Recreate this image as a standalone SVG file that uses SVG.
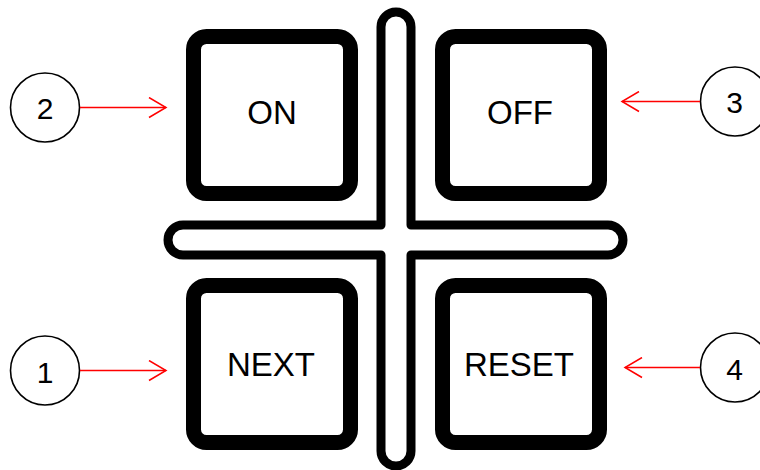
<svg xmlns="http://www.w3.org/2000/svg" width="760" height="470" viewBox="0 0 760 470">
<style>
.btn{fill:#fff;stroke:#000;stroke-width:15;}
.lbl{font-family:"Liberation Sans",Arial,sans-serif;font-size:33px;fill:#000;text-anchor:middle;}
.num{font-family:"Liberation Sans",Arial,sans-serif;font-size:30px;fill:#000;text-anchor:middle;}
.circ{fill:#fff;stroke:#000;stroke-width:1.6;}
.conn{stroke:#ff0000;stroke-width:1.5;fill:none;}
</style>
<defs>
<marker id="arr" viewBox="0 0 20 22" refX="18" refY="11" markerWidth="20" markerHeight="22" markerUnits="userSpaceOnUse" orient="auto">
<path d="M1 1 L18 11 L1 21" fill="none" stroke="#ff0000" stroke-width="1.5"/>
</marker>
</defs>
<rect width="760" height="470" fill="#fff"/>
<g id="cross">
<path d="M381 27 A15 15 0 0 1 411 27 L411 225 L608 225 A15 15 0 0 1 608 255 L411 255 L411 451 A15 15 0 0 1 381 451 L381 255 L183 255 A15 15 0 0 1 183 225 L381 225 Z" fill="#fff" stroke="#000" stroke-width="9" stroke-linejoin="round"/>
</g>
<g id="btn-on">
<rect class="btn" x="193.5" y="36.5" width="157" height="157" rx="13"/>
<text class="lbl" x="272" y="124">ON</text>
</g>
<g id="btn-off">
<rect class="btn" x="442.5" y="36.5" width="157" height="157" rx="13"/>
<text class="lbl" x="520" y="124">OFF</text>
</g>
<g id="btn-next">
<rect class="btn" x="193.5" y="285.5" width="157" height="157" rx="13"/>
<text class="lbl" x="271" y="376">NEXT</text>
</g>
<g id="btn-reset">
<rect class="btn" x="442.5" y="285.5" width="157" height="157" rx="13"/>
<text class="lbl" x="519" y="376">RESET</text>
</g>
<g id="callout-2">
<circle class="circ" cx="45" cy="107.5" r="34.5"/>
<text class="num" x="45" y="119">2</text>
</g>
<g id="callout-3">
<circle class="circ" cx="735" cy="101.5" r="34.5"/>
<text class="num" x="734.5" y="113">3</text>
</g>
<g id="callout-1">
<circle class="circ" cx="45" cy="370.5" r="34.5"/>
<text class="num" x="45" y="382.5">1</text>
</g>
<g id="callout-4">
<circle class="circ" cx="735" cy="367.5" r="34.5"/>
<text class="num" x="734.5" y="380">4</text>
</g>
<g id="connectors">
<line class="conn" x1="80" y1="107.5" x2="166" y2="107.5" marker-end="url(#arr)"/>
<line class="conn" x1="700" y1="101.5" x2="622" y2="101.5" marker-end="url(#arr)"/>
<line class="conn" x1="80" y1="370.5" x2="166" y2="370.5" marker-end="url(#arr)"/>
<line class="conn" x1="700" y1="367.5" x2="625" y2="367.5" marker-end="url(#arr)"/>
</g>
</svg>
